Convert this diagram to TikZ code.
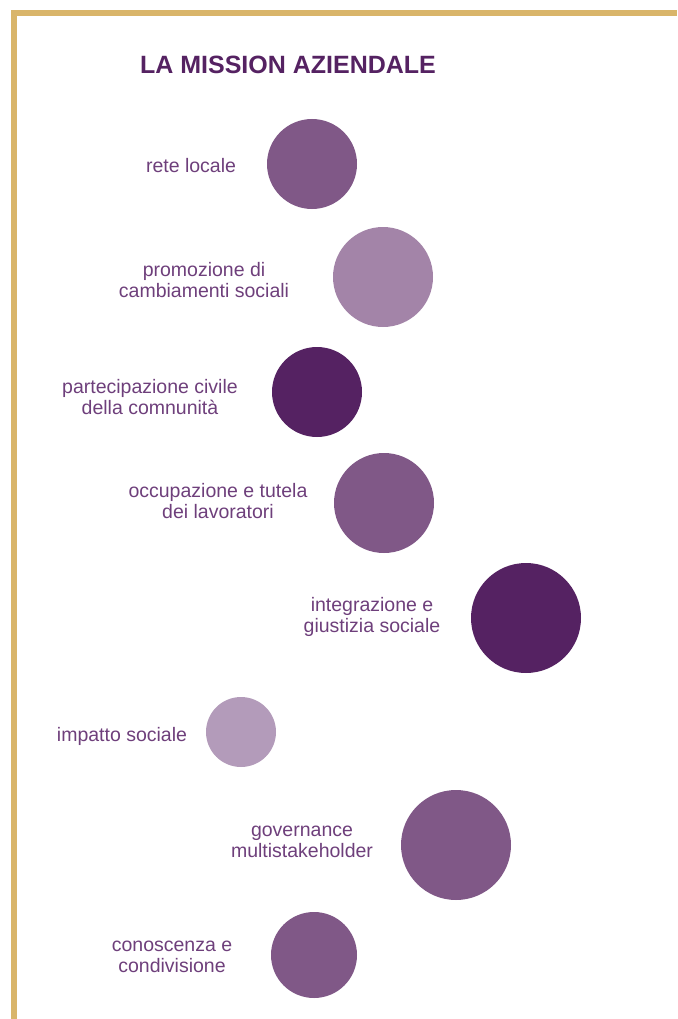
\documentclass[tikz,border=0pt]{standalone}
\usepackage{fontspec}
\setmainfont{Liberation Sans}
\usetikzlibrary{positioning}
\definecolor{oro}{HTML}{D9B56A}
\definecolor{viola}{HTML}{552262}
\definecolor{violamed}{HTML}{805887}
\definecolor{violachiaro}{HTML}{A384A8}
\definecolor{violapallido}{HTML}{B39BBA}
\definecolor{testo}{HTML}{6E3F7B}

\begin{document}
\begin{tikzpicture}[x=1pt,y=-1pt,
    dot/.style={circle,inner sep=0pt,draw=none},
    lbl/.style={align=center,text=testo,inner sep=0pt,font=\fontsize{19.5}{21.5}\selectfont}]
  \useasboundingbox (0,0) rectangle (677,1019);
  \draw[oro,line width=6.5pt] (14,1019) |- (677,13);
  \node[text=viola,font=\fontsize{25}{28}\bfseries] (titolo) at (288,65) {LA MISSION AZIENDALE};
  % cerchi
  \node[dot,fill=violamed,minimum size=90pt] (rete) at (312,164) {};
  \node[dot,fill=violachiaro,minimum size=100pt] (promo) at (383,277) {};
  \node[dot,fill=viola,minimum size=90pt] (partec) at (317,392) {};
  \node[dot,fill=violamed,minimum size=100pt] (occup) at (384,503) {};
  \node[dot,fill=viola,minimum size=110pt] (integr) at (526,618) {};
  \node[dot,fill=violapallido,minimum size=70pt] (impatto) at (241,732) {};
  \node[dot,fill=violamed,minimum size=110pt] (gov) at (456,845) {};
  \node[dot,fill=violamed,minimum size=86pt] (conosc) at (314,955) {};
  % etichette
  \node[lbl] (lrete) at (191,166) {rete locale};
  \node[lbl] (lpromo) at (204,280) {promozione di\\cambiamenti sociali};
  \node[lbl] (lpartec) at (150,397) {partecipazione civile\\della comnunità};
  \node[lbl] (loccup) at (218,501) {occupazione e tutela\\dei lavoratori};
  \node[lbl] (lintegr) at (372,617) {integrazione e\\giustizia sociale};
  \node[lbl] (limpatto) at (122,736) {impatto sociale};
  \node[lbl] (lgov) at (302,842) {governance\\multistakeholder};
  \node[lbl] (lconosc) at (172,957) {conoscenza e\\condivisione};
\end{tikzpicture}
\end{document}
